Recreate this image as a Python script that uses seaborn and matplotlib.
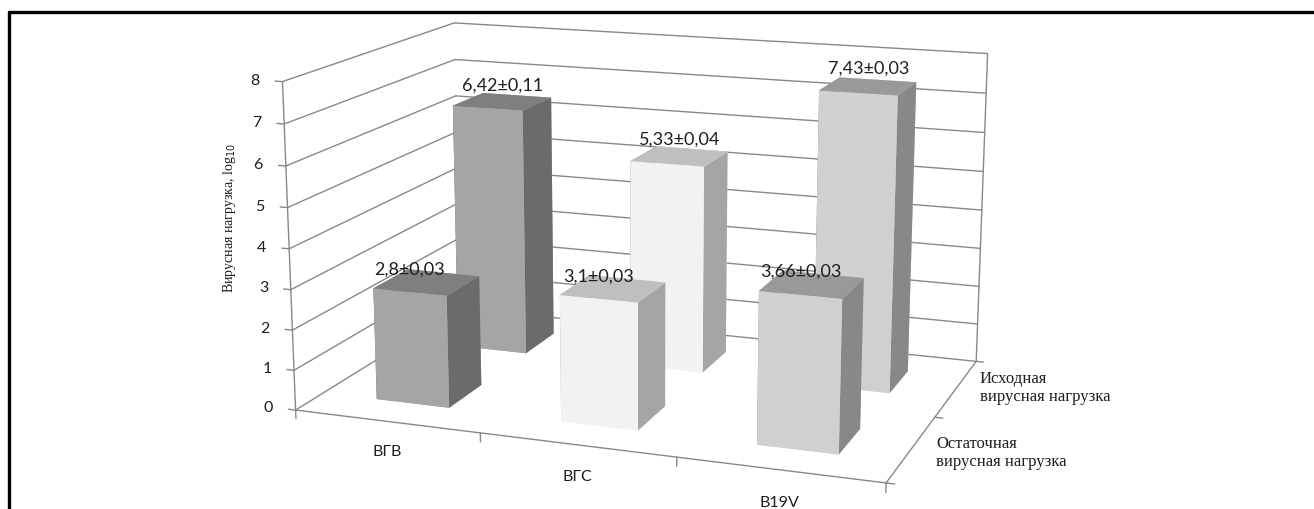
import numpy as np
import matplotlib
matplotlib.use("Agg")
import matplotlib.pyplot as plt
import seaborn as sns
from matplotlib.lines import Line2D

# ---- data ----
categories = ["ВГВ", "ВГС", "B19V"]
series = ["Остаточная\nвирусная нагрузка", "Исходная\nвирусная нагрузка"]
residual = [2.8, 3.1, 3.66]
residual_err = [0.03, 0.03, 0.03]
initial = [6.42, 5.33, 7.43]
initial_err = [0.11, 0.04, 0.03]
z_ticks = [0, 1, 2, 3, 4, 5, 6, 7, 8]

sns.set_theme(style="white")
plt.rcParams["font.family"] = ["Lato", "DejaVu Sans"]

# per-category colours: (front face, top face, side face)
cat_colors = [("#a5a5a5", "#7f7f7f", "#6b6b6b"),
              ("#f2f2f2", "#bfbfbf", "#a5a5a5"),
              ("#d0d0d0", "#999999", "#888888")]
txt = "#1e1e1e"
gcol = "#888888"

fig = plt.figure(figsize=(13.14, 5.10), dpi=100)
ax = fig.add_axes([-0.1131, -0.7571, 1.1850, 2.5443], projection="3d")
ax.set_proj_type("persp", focal_length=0.32)
ax.view_init(elev=14, azim=-70)
ax.set_box_aspect((1, 0.65, 0.55), zoom=0.585)
ax.set_xticks([])
ax.set_yticks([])
ax.set_zticks([])
ax.set_axis_off()

xlim = (-0.5, len(categories) - 0.5)
ylim = (-0.5, len(series) - 0.5)
zlim = (z_ticks[0], z_ticks[-1])
ax.set_xlim(*xlim)
ax.set_ylim(*ylim)
ax.set_zlim(*zlim)

def line3(xx, yy, zz):
    ax.plot(xx, yy, zz, color=gcol, lw=1.0, zorder=0.2)

# wall gridlines (left wall and back wall)
for z in z_ticks:
    line3([xlim[0], xlim[0]], [ylim[0], ylim[1]], [z, z])
    line3([xlim[0], xlim[1]], [ylim[1], ylim[1]], [z, z])
# frame edges
line3([xlim[1], xlim[1]], [ylim[1], ylim[1]], [zlim[0], zlim[1]])
line3([xlim[0], xlim[0]], [ylim[0], ylim[0]], [zlim[0], zlim[1]])
line3([xlim[0], xlim[1]], [ylim[0], ylim[0]], [zlim[0], zlim[0]])
line3([xlim[1], xlim[1]], [ylim[0], ylim[1]], [zlim[0], zlim[0]])

# tick marks
for z in z_ticks:
    line3([xlim[0], xlim[0] - 0.04], [ylim[0], ylim[0]], [z, z])
for xb in np.arange(xlim[0], xlim[1] + 0.01, 1):
    line3([xb, xb], [ylim[0], ylim[0]], [0, -0.22])
for yb in np.arange(ylim[0], ylim[1] + 0.01, 1):
    line3([xlim[1], xlim[1] + 0.04], [yb, yb], [0, 0])

# bars
w = 0.4
values = [residual, initial]
xs, ys, dzs, cols = [], [], [], []
for si, vals in enumerate(values):
    for ci, v in enumerate(vals):
        xs.append(ci - w / 2)
        ys.append(si - w / 2)
        dzs.append(v)
        f, t, s = cat_colors[ci]
        cols.extend([f, t, f, f, s, s])
ax.bar3d(xs, ys, np.zeros(len(xs)), w, w, dzs, color=cols, shade=False,
         edgecolor="none", linewidth=0)

# bar labels (front row anchored at the front face, back row at bar centre)
def fmt(v):
    return (f"{v:g}").replace(".", ",")
errs = [residual_err, initial_err]
label_dy = [-w / 2, 0.0]
label_dz = [0.57, 0.45]
for si, vals in enumerate(values):
    for ci, v in enumerate(vals):
        ax.text(ci, si + label_dy[si], v + label_dz[si],
                f"{fmt(v)}±{errs[si][ci]:.2f}".replace(".", ","),
                ha="center", va="center", fontsize=13, color=txt, zorder=20)

# value tick labels
for z in z_ticks:
    ax.text(xlim[0] - 0.125, ylim[0], z, str(z), ha="right", va="center",
            fontsize=11.5, color=txt, zorder=20)
# category labels
for ci, c in enumerate(categories):
    ax.text(ci, ylim[0], -0.75, c, ha="center", va="center", fontsize=11.5,
            color=txt, zorder=20)
# series labels
for si, s in enumerate(series):
    ax.text(xlim[1] + 0.12, si, 0.1 * si, s, ha="left", va="center", fontsize=12,
            family="Liberation Serif", color=txt, linespacing=1.15, zorder=20)

fig.text(0.175, 0.573, "Вирусная нагрузка, log$_{10}$", rotation=90, ha="center",
         va="center", fontsize=10, family="Liberation Serif", color=txt)

# outer frame (top and left)
fig.add_artist(Line2D([0.0068, 1.0], [0.9745, 0.9745], color="black", lw=2.4,
                      transform=fig.transFigure))
fig.add_artist(Line2D([0.0068, 0.0068], [0.0, 0.9745], color="black", lw=2.4,
                      transform=fig.transFigure))

fig.savefig("out.png", dpi=100)
